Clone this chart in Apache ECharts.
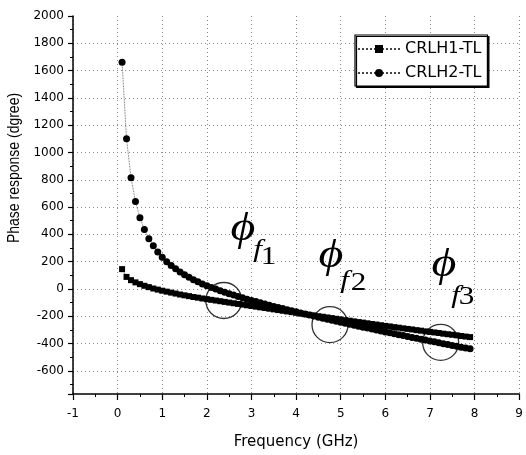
<!DOCTYPE html>
<html><head><meta charset="utf-8">
<script src="https://cdn.jsdelivr.net/npm/echarts@6/dist/echarts.min.js"></script>
<style>html,body{margin:0;padding:0;background:#fff}#c{width:526px;height:455px}</style>
</head><body><div id="c"></div>
<script>
// Frequency (GHz) of each sample point
const freqs = [0.1,0.2,0.3,0.4,0.5,0.6,0.7,0.8,0.9,
  1.0,1.1,1.2,1.3,1.4,1.5,1.6,1.7,1.8,1.9,
  2.0,2.1,2.2,2.3,2.4,2.5,2.6,2.7,2.8,2.9,
  3.0,3.1,3.2,3.3,3.4,3.5,3.6,3.7,3.8,3.9,
  4.0,4.1,4.2,4.3,4.4,4.5,4.6,4.7,4.8,4.9,
  5.0,5.1,5.2,5.3,5.4,5.5,5.6,5.7,5.8,5.9,
  6.0,6.1,6.2,6.3,6.4,6.5,6.6,6.7,6.8,6.9,
  7.0,7.1,7.2,7.3,7.4,7.5,7.6,7.7,7.8,7.9];
// Phase response (degree)
const crlh1 = [145,88,64,48,35,23,13,3,-5,
  -13,-20,-27,-34,-41,-47,-53,-59,-64,-70,
  -75,-80,-85,-90,-95,-100,-105,-110,-115,-120,
  -125,-130,-135,-140,-145,-150,-155,-160,-165,-170,
  -175,-180,-185,-190,-195,-200,-204,-209,-214,-219,
  -224,-229,-233,-238,-243,-247,-252,-257,-261,-266,
  -271,-275,-280,-284,-289,-293,-297,-302,-306,-311,
  -315,-319,-323,-328,-332,-336,-340,-345,-349,-353];
const crlh2 = [1661,1100,815,640,522,435,368,316,270,
  232,200,172,147,124,104,85,68,52,37,
  24,11,-1,-13,-24,-35,-45,-55,-65,-75,
  -84,-93,-102,-111,-119,-128,-136,-144,-152,-160,
  -168,-176,-184,-192,-199,-207,-214,-222,-229,-237,
  -244,-251,-258,-266,-273,-280,-287,-294,-301,-308,
  -315,-322,-329,-335,-342,-349,-356,-362,-369,-375,
  -382,-388,-395,-401,-408,-414,-420,-427,-433,-439];
const seriesNames = ['CRLH1-TL','CRLH2-TL'];
// Highlighted operating points (frequency, phase)
const circleMarks = [[2.38,-85],[4.76,-262],[7.24,-392]];
const phiSubs = ['1','2','3'];
const xTitle = 'Frequency (GHz)';
const yTitle = 'Phase response (dgree)';

const chart = echarts.init(document.getElementById('c'), null, {renderer:'canvas'});
const pair = (ys) => freqs.map((f,i)=>[f, ys[i]]);

const phiPos = [
  {x:243,y:229, f:[14.5,21], n:[25.5,28]},
  {x:331,y:256, f:[13.5,25], n:[27.5,27]},
  {x:444,y:265, f:[11.5,31], n:[22.5,32]}
];
function phiLabel(p, sub){
  const T = (txt, x, y, font) => ({type:'text', x:x, y:y, scaleX:1.2, z:100,
    style:{text:txt, font:font, fill:'#000', align:'center', verticalAlign:'middle', textAlign:'center', textVerticalAlign:'middle'}});
  return {type:'group', x:p.x, y:p.y, children:[
    T('\u03D5', 0, 0, 'italic 40px "Liberation Serif", "DejaVu Serif", serif'),
    T('f', p.f[0], p.f[1], 'italic 26px "Liberation Serif", serif'),
    T(sub, p.n[0], p.n[1], '26px "Liberation Serif", serif')
  ]};
}

const axisFont = {fontFamily:'DejaVu Sans', fontSize:12, color:'#000'};
const gridLine = {show:true, lineStyle:{color:'#8a8a8a', type:[1,3], width:1}};

chart.setOption({
  animation:false,
  backgroundColor:'#fff',
  grid:{left:73, right:2, top:16, bottom:59},
  xAxis:{type:'value', min:-1, max:9, interval:1,
    axisLine:{show:true, onZero:false, lineStyle:{color:'#000', width:1.5}},
    axisTick:{show:true, length:6, inside:false, lineStyle:{color:'#000', width:1.2}},
    minorTick:{show:true, splitNumber:2, length:3, lineStyle:{color:'#000', width:1}},
    axisLabel:{...axisFont, margin:14},
    splitLine:gridLine,
    name:xTitle, nameLocation:'middle', nameGap:41,
    nameTextStyle:{fontFamily:'DejaVu Sans', fontSize:15, color:'#000'}
  },
  yAxis:{type:'value', min:-770, max:2000, splitNumber:14,
    axisLine:{show:true, onZero:false, lineStyle:{color:'#000', width:1.5}},
    axisTick:{show:true, length:5, inside:false, lineStyle:{color:'#000', width:1.2}},
    minorTick:{show:true, splitNumber:2, length:3, lineStyle:{color:'#000', width:1}},
    axisLabel:{...axisFont, margin:9, formatter:(v)=> (v===-770 ? '' : String(v))},
    splitLine:Object.assign({}, gridLine, {showMaxLine:false, showMinLine:false})
  },
  legend:{data:seriesNames, orient:'vertical', left:355, top:35,
    padding:[6,6,5,2], itemWidth:42, itemHeight:10, itemGap:8,
    borderColor:'#000', borderWidth:1.2, backgroundColor:'#fff',
    shadowColor:'#000', shadowOffsetX:1.5, shadowOffsetY:1.5, shadowBlur:0,
    textStyle:{fontFamily:'DejaVu Sans', fontSize:16, color:'#000', lineHeight:16}
  },
  graphic:[
    {type:'text', x:15, y:168, rotation:Math.PI/2, scaleY:1.15,
      style:{text:yTitle, font:'14px "Liberation Sans", Arial, sans-serif', fill:'#000',
        align:'center', verticalAlign:'middle', textAlign:'center', textVerticalAlign:'middle'}},
    ...phiPos.map((p,i)=>phiLabel(p, phiSubs[i]))
  ],
  series:[
    {name:seriesNames[0], type:'line', data:pair(crlh1), symbol:'rect', symbolSize:6,
      showAllSymbol:true, itemStyle:{color:'#000'},
      lineStyle:{color:'#444', width:0.8, type:'dotted'}, z:3},
    {name:seriesNames[1], type:'line', data:pair(crlh2), symbol:'circle', symbolSize:7,
      showAllSymbol:true, itemStyle:{color:'#000'},
      lineStyle:{color:'#444', width:0.8, type:'dotted'}, z:4},
    {name:'marks', type:'scatter', data:circleMarks, symbol:'circle', symbolSize:36,
      itemStyle:{color:'rgba(0,0,0,0)', borderColor:'#000', borderWidth:1.3}, z:5, silent:true}
  ]
});
</script></body></html>
